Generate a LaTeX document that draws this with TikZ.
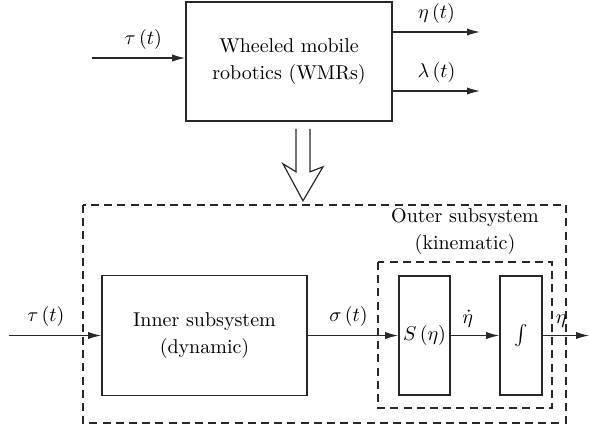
\documentclass[tikz,border=0pt]{standalone}
\usepackage{amsmath}
\usepackage{tikz}
\usetikzlibrary{arrows.meta,positioning,calc}
\definecolor{blkline}{RGB}{40,40,40}
\tikzset{
  blk/.style={
    draw=blkline, line width=0.8pt, align=center, inner sep=2pt,
    font={\fontsize{10}{13.5}\selectfont}
  },
  txt/.style={align=center, inner sep=1pt, font={\fontsize{10}{13.5}\selectfont}},
  frame/.style={draw=blkline, dashed, dash pattern=on 4pt off 2.6pt, line width=0.6pt},
  arr/.style={-{Latex[length=6.5pt,width=3.6pt]}, draw=blkline, line width=0.6pt},
  sig/.style={font=\normalsize, inner sep=1pt, above=3pt},
  every picture/.append style={line join=miter}
}
\begin{document}
\begin{tikzpicture}[x=0.5pt, y=-0.5pt]
  \useasboundingbox (0,0) rectangle (589,430);

  % plant as one block
  \node[blk, minimum width=103pt, minimum height=59.5pt] (wmr) at (289,61.5)
    {Wheeled mobile\\robotics (WMRs)};
  \coordinate (tauin) at (92,58);
  \coordinate (etaout) at (480,32);
  \coordinate (lamout) at (480,91);
  \draw[arr] (tauin) -- (tauin -| wmr.west) node[sig, pos=0.55] {$\tau\,(t)$};
  \draw[arr] (etaout -| wmr.east) -- (etaout) node[sig, pos=0.5] {$\eta\,(t)$};
  \draw[arr] (lamout -| wmr.east) -- (lamout) node[sig, pos=0.5] {$\lambda\,(t)$};

  % hollow arrow down to the split form
  \begin{scope}[shift={(wmr.south)}]
    \draw[blkline, line width=0.6pt]
      (7,7) -- (7,50) -- (-6,42) -- (14,79) -- (34,45) -- (21,50) -- (21,7);
  \end{scope}

  % outer dashed frame
  \draw[frame] (83,205) rectangle (566,423);

  % inner (dynamic) part
  \node[blk, minimum width=102.5pt, minimum height=60pt] (inner) at (204.5,335.5)
    {Inner subsystem\\(dynamic)};

  % outer (kinematic) part
  \draw[frame] (378,262) rectangle (552,408);
  \node[txt] (kin) at (465,231) {Outer subsystem\\(kinematic)};
  \node[blk, minimum width=25.5pt, minimum height=59.5pt, inner sep=0pt] (smap) at (424.5,335.5)
    {$S\,(\eta)$};
  \node[blk, minimum width=21pt, minimum height=59.5pt, inner sep=0pt] (integ) at (521,335.5)
    {$\int$};

  \coordinate (tauin2) at (9,335.5);
  \coordinate (etaend) at (589,335.5);
  \draw[arr] (tauin2) -- (inner.west) node[sig, pos=0.4] {$\tau\,(t)$};
  \draw[arr] (inner.east) -- (smap.west) node[sig, pos=0.45] {$\sigma\,(t)$};
  \draw[arr] (smap.east) -- (integ.west) node[sig, pos=0.35] {$\dot{\eta}$};
  \draw[arr] (integ.east) -- (etaend) node[sig, pos=0.4] {$\eta$};
\end{tikzpicture}
\end{document}
